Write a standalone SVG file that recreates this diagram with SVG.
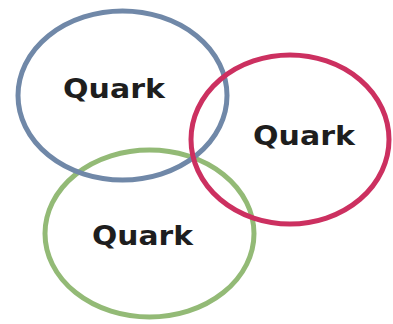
<svg xmlns="http://www.w3.org/2000/svg" width="393" height="324" viewBox="0 0 393 324">
<style>
.ring{fill:none;stroke-width:5}
.lbl{font-family:"DejaVu Sans",sans-serif;font-weight:bold;font-size:27px;fill:#1e1e1e}
</style>
<rect width="393" height="324" fill="#ffffff"/>
<g id="green">
<ellipse class="ring" cx="149.5" cy="233.5" rx="104.5" ry="83.5" stroke="#93ba76"/>
<text class="lbl" x="92" y="245" textLength="101" lengthAdjust="spacingAndGlyphs">Quark</text>
</g>
<g id="blue">
<ellipse class="ring" cx="122.5" cy="95.5" rx="104.5" ry="84.5" stroke="#7088a8"/>
<text class="lbl" x="63" y="98" textLength="102" lengthAdjust="spacingAndGlyphs">Quark</text>
</g>
<g id="red">
<ellipse class="ring" cx="290" cy="139.5" rx="99" ry="84.5" stroke="#cc3060"/>
<text class="lbl" x="253" y="145" textLength="102" lengthAdjust="spacingAndGlyphs">Quark</text>
</g>
</svg>
